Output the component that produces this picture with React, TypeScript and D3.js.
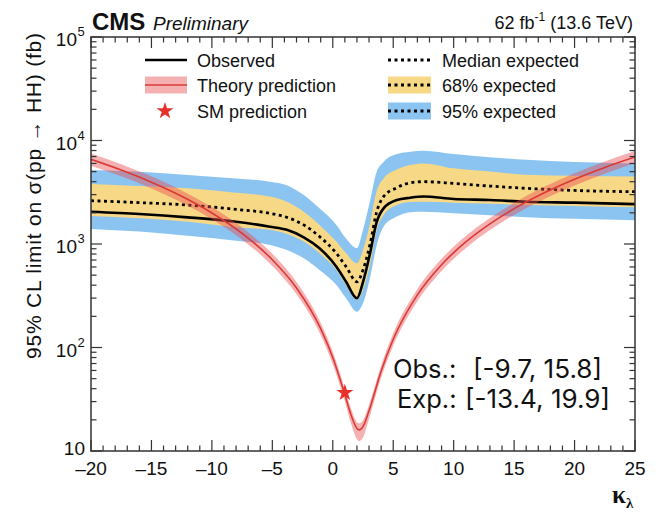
import React from 'react';
import * as d3 from 'd3';

// ---- data ----
const kappa = [-20, -16, -12, -8, -5.2, -3.8, -2.4, -1.1, 0.3, 1.1, 2.0, 2.5, 3.1, 3.6, 4.2, 5.3, 6.4, 7.5, 10, 13, 16, 20, 25];
const observed = [2050, 1950, 1810, 1640, 1470, 1370, 1160, 910, 604, 432, 299, 428, 830, 1580, 2210, 2660, 2800, 2880, 2720, 2660, 2560, 2510, 2430];
const expected = [2620, 2510, 2380, 2160, 1980, 1810, 1530, 1180, 813, 604, 432, 561, 1015, 1980, 2870, 3500, 3900, 4000, 3850, 3630, 3450, 3290, 3200];
const exp68Lo = [1860, 1770, 1640, 1450, 1370, 1250, 1055, 813, 561, 402, 290, 360, 650, 1320, 1900, 2380, 2540, 2560, 2510, 2450, 2380, 2330, 2260];
const exp68Hi = [3800, 3630, 3450, 3130, 2870, 2560, 2050, 1530, 1055, 813, 650, 875, 1620, 3150, 4300, 5250, 5800, 6010, 5380, 5020, 4660, 4560, 4480];
const exp95Lo = [1400, 1320, 1200, 1077, 980, 875, 727, 561, 402, 299, 222, 267, 483, 940, 1470, 1840, 2030, 2050, 1980, 1900, 1810, 1750, 1700];
const exp95Hi = [5190, 4990, 4650, 4300, 4000, 3700, 2970, 2210, 1530, 1130, 910, 1370, 2660, 4850, 6200, 7400, 7800, 7980, 7400, 6900, 6500, 6200, 6010];

const theoryKappa = [-20, -17.5, -15, -12.5, -10, -7.5, -5, -3, -1, 0, 1, 1.5, 2, 2.2, 2.5, 3, 4, 5, 7, 9, 11, 13, 15, 17.5, 20, 22.5, 25];
const theory = [6571, 5178, 3950, 2890, 1995, 1267, 705, 376, 152, 80, 35, 22.5, 16.5, 16, 17.2, 24.5, 59, 120, 322, 631, 1046, 1567, 2195, 3129, 4230, 5497, 6930];
const theoryLo = [5717, 4505, 3437, 2514, 1736, 1102, 613, 327, 132, 69, 30, 18.5, 13, 12.5, 13.5, 20.5, 51, 104, 280, 549, 910, 1363, 1910, 2722, 3680, 4782, 6029];
const theoryHi = [7491, 5903, 4503, 3295, 2274, 1444, 804, 429, 173, 91, 40, 26, 19, 18.5, 19.8, 28, 67, 137, 367, 719, 1192, 1786, 2502, 3567, 4822, 6267, 7900];

const smKappa = [1];
const smXsec = [36.5];

const xTickValues = [-20, -15, -10, -5, 0, 5, 10, 15, 20, 25];
const yDecades = [10, 100, 1000, 10000, 100000];
const yExponents = ['', '2', '3', '4', '5'];

const legendLeft = ['Observed', 'Theory prediction', 'SM prediction'];
const legendRight = ['Median expected', '68% expected', '95% expected'];
const intervalLabels = ['Obs.:', 'Exp.:'];
const intervalValues = ['[-9.7, 15.8]', '[-13.4, 19.9]'];

// ---- styling ----
const W = 659, H = 513;
const L = 91, R = 635, T = 37, B = 451;
const FONT = '"Liberation Sans", Arial, Helvetica, sans-serif';
const BOXFONT = 'Inter, Roboto, "Liberation Sans", sans-serif';
const YELLOW = '#F7D887';
const BLUE = '#8BC4F1';
const RED = '#D93A36';
const REDBAND = 'rgba(232, 80, 84, 0.45)';

export default function App() {
  const x = d3.scaleLinear().domain([-20, 25]).range([L, R]);
  const y = d3.scaleLog().domain([10, 1e5]).range([B, T]);

  const idx = kappa.map((_, i) => i);
  const tIdx = theoryKappa.map((_, i) => i);
  const curve = d3.curveMonotoneX;

  const area = (lo: number[], hi: number[], ks: number[], ids: number[]) =>
    d3.area<number>().x(i => x(ks[i])).y0(i => y(lo[i])).y1(i => y(hi[i])).curve(curve)(ids) || '';
  const line = (vals: number[], ks: number[], ids: number[]) =>
    d3.line<number>().x(i => x(ks[i])).y(i => y(vals[i])).curve(curve)(ids) || '';

  const star = d3.symbol().type(d3.symbolStar).size(90)() || '';

  // ticks
  const xMinor = d3.range(-20, 26, 1);
  const yMinor: number[] = [];
  for (let d = 10; d < 1e5; d *= 10) for (let m = 2; m <= 9; m++) yMinor.push(d * m);

  const ticks: JSX.Element[] = [];
  xMinor.forEach(v => {
    const major = v % 5 === 0;
    const len = major ? 11 : 5.5;
    const px = x(v);
    ticks.push(<line key={'xb' + v} x1={px} x2={px} y1={B} y2={B - len} stroke="#333" strokeWidth={1.2} />);
    ticks.push(<line key={'xt' + v} x1={px} x2={px} y1={T} y2={T + len} stroke="#333" strokeWidth={1.2} />);
  });
  yDecades.forEach(v => {
    const py = y(v);
    ticks.push(<line key={'yl' + v} x1={L} x2={L + 11} y1={py} y2={py} stroke="#333" strokeWidth={1.2} />);
    ticks.push(<line key={'yr' + v} x1={R} x2={R - 11} y1={py} y2={py} stroke="#333" strokeWidth={1.2} />);
  });
  yMinor.forEach(v => {
    const py = y(v);
    ticks.push(<line key={'ylm' + v} x1={L} x2={L + 5.5} y1={py} y2={py} stroke="#333" strokeWidth={1.2} />);
    ticks.push(<line key={'yrm' + v} x1={R} x2={R - 5.5} y1={py} y2={py} stroke="#333" strokeWidth={1.2} />);
  });

  const legRowY = [60, 85, 111];

  return (
    <svg width={W} height={H} style={{ position: 'absolute', left: 0, top: 0, background: '#fff' }} fontFamily={FONT}>
      <rect x={0} y={0} width={W} height={H} fill="#fff" />
      <defs>
        <clipPath id="plotclip">
          <rect x={L} y={T} width={R - L} height={B - T} />
        </clipPath>
      </defs>

      <g clipPath="url(#plotclip)">
        <path d={area(exp95Lo, exp95Hi, kappa, idx)} fill={BLUE} />
        <path d={area(exp68Lo, exp68Hi, kappa, idx)} fill={YELLOW} />
        <path d={line(observed, kappa, idx)} fill="none" stroke="#000" strokeWidth={2.6} />
        <path d={line(expected, kappa, idx)} fill="none" stroke="#000" strokeWidth={2.8} strokeDasharray="3 3.5" />
        <path d={area(theoryLo, theoryHi, theoryKappa, tIdx)} fill={REDBAND} />
        <path d={line(theory, theoryKappa, tIdx)} fill="none" stroke={RED} strokeWidth={1.6} />
        {smKappa.map((k, i) => (
          <path key={'sm' + i} d={star} transform={`translate(${x(k)},${y(smXsec[i])})`} fill="#E8302A" />
        ))}
      </g>

      {/* frame */}
      <rect x={L} y={T} width={R - L} height={B - T} fill="none" stroke="#333" strokeWidth={1.5} />
      {ticks}

      {/* x tick labels */}
      {xTickValues.map(v => (
        <text key={'xl' + v} x={x(v)} y={475} fontSize={19} textAnchor="middle" fill="#111">
          {v < 0 ? '\u2013' + Math.abs(v) : String(v)}
        </text>
      ))}

      {/* y tick labels */}
      {yDecades.map((v, i) => (
        yExponents[i] === '' ? (
          <text key={'yl' + v} x={85} y={y(v) + 4} fontSize={19} textAnchor="end" fill="#111">10</text>
        ) : (
          <text key={'yl' + v} x={77} y={y(v) + 9} fontSize={19} textAnchor="end" fill="#111">
            10
            <tspan x={77.5} dy={-10} fontSize={13} textAnchor="start">{yExponents[i]}</tspan>
          </text>
        )
      ))}

      {/* axis titles */}
      <text transform="translate(41,33) rotate(-90)" fontSize={21} textAnchor="end" fill="#111"
        textLength={326} lengthAdjust="spacing">
        95% CL limit on σ(pp → HH) (fb)
      </text>
      <text x={612} y={503} fontSize={25} fontFamily='"Liberation Serif", "DejaVu Serif", serif' fontWeight="bold" fill="#111">
        κ<tspan fontSize={15} dy={5}>λ</tspan>
      </text>

      {/* header */}
      <text x={92} y={30} fontSize={24} fontWeight="bold" fill="#111">CMS</text>
      <text x={153} y={30} fontSize={19} fontStyle="italic" fill="#111">Preliminary</text>
      <text x={633} y={29} fontSize={18} textAnchor="end" fill="#111">
        62 fb<tspan fontSize={12} dy={-8}>-1</tspan><tspan dy={8}> (13.6 TeV)</tspan>
      </text>

      {/* legend left */}
      <line x1={145} x2={187} y1={legRowY[0]} y2={legRowY[0]} stroke="#000" strokeWidth={2.6} />
      <rect x={145} y={legRowY[1] - 8.5} width={42} height={17} fill={REDBAND} />
      <line x1={145} x2={187} y1={legRowY[1]} y2={legRowY[1]} stroke={RED} strokeWidth={1.6} />
      <path d={star} transform={`translate(165,${legRowY[2]})`} fill="#E8302A" />
      {legendLeft.map((t, i) => (
        <text key={'ll' + i} x={197} y={legRowY[i] + 6.5} fontSize={18} fill="#111">{t}</text>
      ))}

      {/* legend right */}
      <line x1={388} x2={431} y1={legRowY[0]} y2={legRowY[0]} stroke="#000" strokeWidth={2.8} strokeDasharray="3 3.5" />
      <rect x={388} y={legRowY[1] - 8.5} width={43} height={17} fill={YELLOW} />
      <line x1={388} x2={431} y1={legRowY[1]} y2={legRowY[1]} stroke="#000" strokeWidth={2.8} strokeDasharray="3 3.5" />
      <rect x={388} y={legRowY[2] - 8.5} width={43} height={17} fill={BLUE} />
      <line x1={388} x2={431} y1={legRowY[2]} y2={legRowY[2]} stroke="#000" strokeWidth={2.8} strokeDasharray="3 3.5" />
      {legendRight.map((t, i) => (
        <text key={'lr' + i} x={442} y={legRowY[i] + 6.5} fontSize={18} fill="#111">{t}</text>
      ))}

      {/* interval box */}
      <text x={393} y={378} fontSize={25.5} fontFamily={BOXFONT} fill="#111">{intervalLabels[0]}</text>
      <text x={473} y={378} fontSize={25.5} fontFamily={BOXFONT} fill="#111" textLength={129} lengthAdjust="spacingAndGlyphs">{intervalValues[0]}</text>
      <text x={397} y={408} fontSize={25.5} fontFamily={BOXFONT} fill="#111">{intervalLabels[1]}</text>
      <text x={465} y={408} fontSize={25.5} fontFamily={BOXFONT} fill="#111" textLength={145} lengthAdjust="spacingAndGlyphs">{intervalValues[1]}</text>
    </svg>
  );
}
